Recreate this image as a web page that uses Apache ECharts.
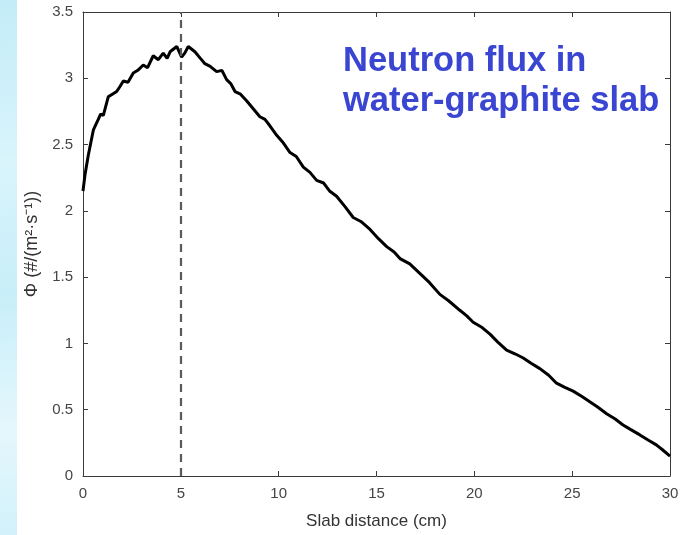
<!DOCTYPE html>
<html>
<head>
<meta charset="utf-8">
<script src="https://cdn.jsdelivr.net/npm/echarts@6/dist/echarts.min.js"></script>
<style>
  html, body { margin: 0; padding: 0; background: #fff; }
  #chart { width: 682px; height: 535px; }
</style>
</head>
<body>
<div id="chart"></div>
<script>
// slab distance (cm)
const slabX = [0, 0.1, 0.27, 0.53, 0.78, 0.9, 1.04, 1.29, 1.5, 1.72, 1.9, 2.06, 2.3, 2.57, 2.8, 3.08, 3.3, 3.59, 3.85, 4.1, 4.3, 4.45, 4.79, 5.04, 5.2, 5.38, 5.72, 6.0, 6.23, 6.5, 6.83, 7.1, 7.34, 7.55, 7.77, 8.05, 8.36, 8.7, 9.04, 9.3, 9.56, 9.9, 10.2, 10.58, 10.9, 11.26, 11.6, 11.94, 12.3, 12.6, 12.96, 13.4, 13.81, 14.2, 14.67, 15.1, 15.52, 15.9, 16.2, 16.7, 17.2, 17.7, 18.24, 18.7, 19.26, 19.6, 19.94, 20.4, 20.8, 21.2, 21.65, 22.1, 22.5, 22.9, 23.35, 23.8, 24.2, 24.6, 25.05, 25.5, 25.9, 26.3, 26.76, 27.2, 27.6, 28.0, 28.46, 28.9, 29.3, 29.6, 30.0];
// neutron flux
const fluxY = [2.15, 2.27, 2.42, 2.61, 2.69, 2.73, 2.72, 2.86, 2.88, 2.90, 2.94, 2.98, 2.97, 3.04, 3.06, 3.10, 3.08, 3.17, 3.14, 3.19, 3.15, 3.20, 3.24, 3.16, 3.19, 3.24, 3.20, 3.15, 3.11, 3.09, 3.05, 3.06, 2.99, 2.96, 2.90, 2.88, 2.83, 2.77, 2.71, 2.69, 2.64, 2.57, 2.52, 2.44, 2.41, 2.33, 2.29, 2.23, 2.21, 2.15, 2.11, 2.03, 1.95, 1.92, 1.86, 1.79, 1.73, 1.69, 1.64, 1.60, 1.53, 1.46, 1.37, 1.32, 1.25, 1.21, 1.16, 1.12, 1.07, 1.01, 0.95, 0.92, 0.89, 0.85, 0.81, 0.76, 0.70, 0.67, 0.64, 0.60, 0.56, 0.52, 0.47, 0.43, 0.385, 0.35, 0.31, 0.27, 0.235, 0.20, 0.15];
const markX = 5;
const titleLines = ['Neutron flux in', 'water-graphite slab'];

const font = 'Liberation Sans, Arial, sans-serif';
const axisColor = '#3a3a3a';

let chart = echarts.init(document.getElementById('chart'));

let frameAxis = {
  type: 'value',
  axisLine: { show: true, onZero: false, lineStyle: { color: axisColor, width: 1 } },
  axisTick: { show: true, inside: true, length: 5, lineStyle: { color: axisColor } },
  splitLine: { show: false },
  axisLabel: { show: false }
};

let option = {
  animation: false,
  backgroundColor: '#fff',
  grid: { left: 83, right: 12, top: 12, bottom: 59 },
  xAxis: [
    Object.assign({}, frameAxis, {
      position: 'bottom', min: 0, max: 30, interval: 5,
      axisLabel: { show: true, fontSize: 15, color: '#454545', margin: 10, fontFamily: font },
      name: 'Slab distance (cm)', nameLocation: 'middle', nameGap: 37,
      nameTextStyle: { fontSize: 17, color: '#333', fontFamily: font }
    }),
    Object.assign({}, frameAxis, { position: 'top', min: 0, max: 30, interval: 5 })
  ],
  yAxis: [
    Object.assign({}, frameAxis, {
      position: 'left', min: 0, max: 3.5, interval: 0.5,
      axisLabel: { show: true, fontSize: 15, color: '#454545', margin: 10, fontFamily: font },
      name: 'Φ (#/(m²·s⁻¹))', nameLocation: 'middle', nameGap: 42,
      nameTextStyle: { fontSize: 18, color: '#333', fontFamily: font }
    }),
    Object.assign({}, frameAxis, { position: 'right', min: 0, max: 3.5, interval: 0.5 })
  ],
  series: [
    {
      type: 'line',
      data: slabX.map((x, i) => [x, fluxY[i]]),
      showSymbol: false,
      lineStyle: { color: '#000', width: 3 },
      markLine: {
        silent: true,
        symbol: 'none',
        label: { show: false },
        lineStyle: { color: '#5a5a5a', width: 2.2, type: [8, 6] },
        data: [{ xAxis: markX }]
      }
    }
  ],
  graphic: [
    {
      type: 'rect', left: 0, top: 0, z: -10,
      shape: { width: 17, height: 535 },
      style: {
        fill: new echarts.graphic.LinearGradient(0, 0, 1, 1, [
          { offset: 0, color: '#c3ecf8' },
          { offset: 0.3, color: '#d9f4fb' },
          { offset: 0.55, color: '#c8eef9' },
          { offset: 0.8, color: '#e4f7fc' },
          { offset: 1, color: '#d2f1fa' }
        ])
      }
    },
    {
      type: 'text', left: 343, top: 44,
      style: { text: titleLines[0], fill: '#3a45d2', font: 'bold 34.5px ' + font }
    },
    {
      type: 'text', left: 343, top: 84,
      style: { text: titleLines[1], fill: '#3a45d2', font: 'bold 34.5px ' + font }
    }
  ]
};

chart.setOption(option);
</script>
</body>
</html>
